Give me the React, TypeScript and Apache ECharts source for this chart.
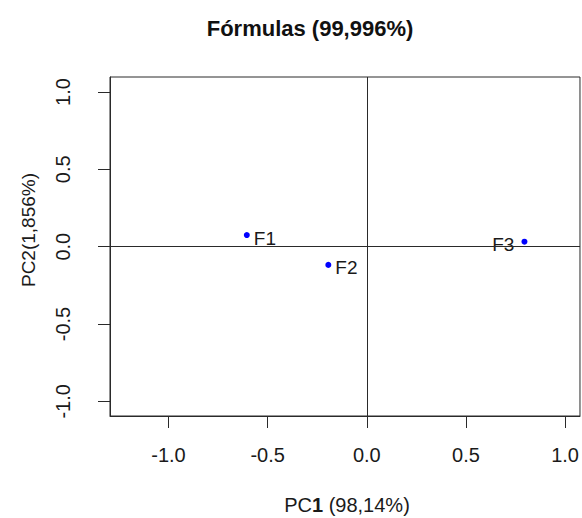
import React, { useEffect, useRef } from "react";
import * as echarts from "echarts";

const names = ["F1", "F2", "F3"];
const pc1 = [-0.605, -0.194, 0.795];
const pc2 = [0.075, -0.118, 0.032];
const labelSide = ["right", "right", "left"];
const xTicks = [-1.0, -0.5, 0.0, 0.5, 1.0];
const yTicks = [-1.0, -0.5, 0.0, 0.5, 1.0];

const FONT = '"Liberation Sans", Arial, sans-serif';
const LINE = "#2a2a2a";

export default function App() {
  const ref = useRef<HTMLDivElement>(null);
  useEffect(() => {
    if (!ref.current) return;
    const chart = echarts.init(ref.current, undefined, { renderer: "svg" });
    const axisCommon = {
      type: "value" as const,
      splitLine: { show: false },
      axisLine: { show: true, onZero: false, lineStyle: { color: LINE, width: 1 } },
    };
    chart.setOption({
      animation: false,
      textStyle: { fontFamily: FONT },
      grid: {
        left: 110,
        right: 2,
        top: 77,
        bottom: 102,
        containLabel: false,
        show: true,
        borderColor: LINE,
        borderWidth: 1,
        backgroundColor: "transparent",
      },
      xAxis: {
        ...axisCommon,
        min: -1.295,
        max: 1.075,
        axisTick: { show: true, customValues: xTicks, length: 12, lineStyle: { color: LINE } },
        axisLabel: {
          customValues: xTicks,
          formatter: (v: number) => v.toFixed(1),
          fontSize: 20,
          color: "#1a1a1a",
          margin: 29,
          fontFamily: FONT,
        },
      },
      yAxis: {
        ...axisCommon,
        min: -1.095,
        max: 1.097,
        axisTick: { show: true, customValues: yTicks, length: 12, lineStyle: { color: LINE } },
        axisLabel: {
          customValues: yTicks,
          formatter: (v: number) => v.toFixed(1),
          fontSize: 20,
          color: "#1a1a1a",
          rotate: 90,
          margin: 37,
          fontFamily: FONT,
        },
      },
      graphic: [
        {
          type: "text",
          x: 310,
          y: 28,
          style: {
            text: "Fórmulas (99,996%)",
            fontSize: 22,
            fontWeight: "bold",
            fontFamily: FONT,
            fill: "#111",
            align: "center",
            verticalAlign: "middle",
          },
        },
        {
          type: "text",
          x: 347,
          y: 505,
          style: {
            text: "{a|PC}{b|1}{a| (98,14%)}",
            fontSize: 20,
            fontFamily: FONT,
            fill: "#1a1a1a",
            align: "center",
            verticalAlign: "middle",
            rich: {
              a: { fontSize: 20, fontFamily: FONT, fill: "#1a1a1a" },
              b: { fontSize: 20, fontFamily: FONT, fontWeight: "bold", fill: "#1a1a1a" },
            },
          },
        },
        {
          type: "text",
          x: 28,
          y: 230,
          rotation: Math.PI / 2,
          style: {
            text: "PC2(1,856%)",
            fontSize: 19,
            fontFamily: FONT,
            fill: "#1a1a1a",
            align: "center",
            verticalAlign: "middle",
          },
        },
      ],
      series: [
        {
          type: "scatter",
          symbol: "circle",
          symbolSize: 6,
          itemStyle: { color: "#0000ff", opacity: 1 },
          data: names.map((n, i) => ({
            name: n,
            value: [pc1[i], pc2[i]],
            label: {
              show: true,
              position: labelSide[i],
              distance: labelSide[i] === "left" ? 7 : 4,
              offset: [0, 3],
              formatter: n,
              fontSize: 19,
              color: "#1a1a1a",
              opacity: 1,
              fontFamily: FONT,
            },
          })),
          markLine: {
            silent: true,
            symbol: ["none", "none"],
            label: { show: false },
            lineStyle: { color: LINE, type: "solid", width: 1, opacity: 1 },
            data: [{ xAxis: 0 }, { yAxis: 0 }],
          },
        },
      ],
    });
    return () => chart.dispose();
  }, []);
  return (
    <div
      ref={ref}
      style={{ position: "fixed", left: 0, top: 0, width: 582, height: 518, background: "#fff" }}
    />
  );
}
